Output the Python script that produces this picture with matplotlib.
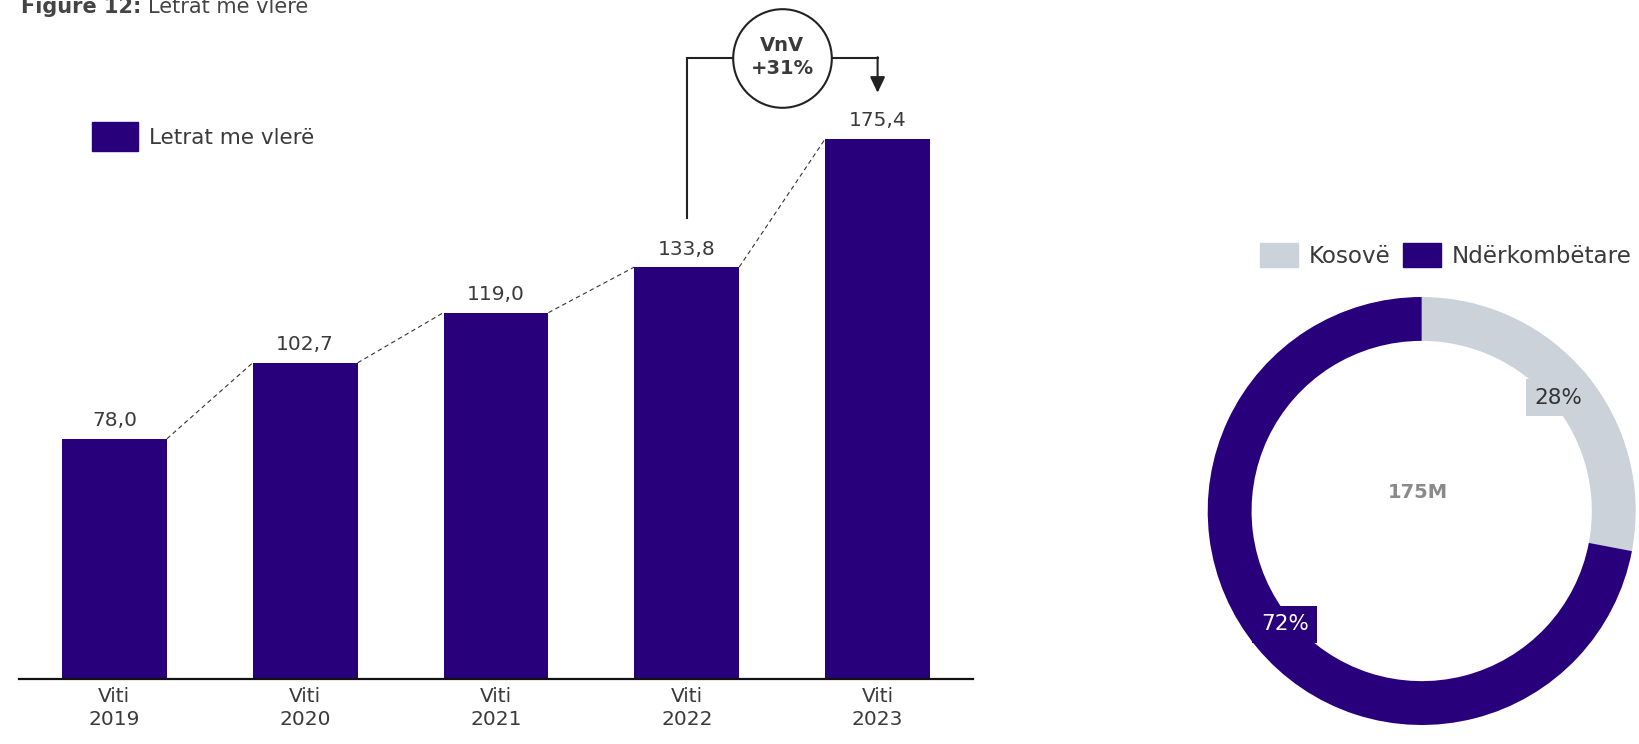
import math
import matplotlib
matplotlib.use("Agg")
import matplotlib.pyplot as plt
from matplotlib.patches import Patch

plt.rcParams['font.family'] = ['DejaVu Sans']

# --- data ---
years = ["2019", "2020", "2021", "2022", "2023"]
values = [78.0, 102.7, 119.0, 133.8, 175.4]
series_name = "Letrat me vlerë"
share_labels = ["Kosovë", "Ndërkombëtare"]
share_values = [28, 72]

PURPLE = "#29007B"
LIGHT = "#CBD2D9"
TEXT = "#3A3A3A"

W, H = 1640, 744
fig = plt.figure(figsize=(W / 100, H / 100), dpi=100)

# --- bar chart ---
px_per_unit = 3.079
ax = fig.add_axes([19 / W, 65 / H, 954 / W, 679 / H])
x = list(range(len(years)))
bw = 0.55
ax.bar(x, values, width=bw, color=PURPLE, zorder=2)
ax.set_xlim(-0.5, 4.5)
ax.set_ylim(0, 679 / px_per_unit)
for s in ("top", "right", "left"):
    ax.spines[s].set_visible(False)
ax.spines["bottom"].set_linewidth(1.6)
ax.spines["bottom"].set_color("#111111")
ax.set_yticks([])
ax.set_xticks(x)
ax.set_xticklabels([f"Viti\n{y}" for y in years], fontsize=14.5, color=TEXT,
                   linespacing=1.25)
ax.tick_params(axis="x", length=0, pad=6)

for xi, v in zip(x, values):
    ax.annotate(f"{v:.1f}".replace(".", ","), xy=(xi, v), xytext=(0, 18),
                textcoords="offset pixels", ha="center", va="center",
                fontsize=14.5, color=TEXT)

# dashed connectors between neighbouring bar tops
for i in range(len(values) - 1):
    ax.plot([x[i] + bw / 2, x[i + 1] - bw / 2], [values[i], values[i + 1]],
            ls=(0, (4, 3)), lw=0.8, color="#333333", zorder=1)

# year-over-year growth callout
growth = round((values[-1] / values[-2] - 1) * 100)
y_top = 201.7
gap = 16
ax.plot([x[-2], x[-2], x[-1]], [values[-2] + gap, y_top, y_top],
        color="#222222", lw=1.5, zorder=3, solid_joinstyle="miter")
ax.annotate("", xy=(x[-1], values[-1] + gap - 1), xytext=(x[-1], y_top + 0.25),
            arrowprops=dict(arrowstyle="-|>,head_length=0.95,head_width=0.45",
                            color="#222222", lw=1.5, shrinkA=0, shrinkB=0),
            zorder=3)
cx = (x[-2] + x[-1]) / 2
ax.plot([cx], [y_top], marker="o", markersize=71, mfc="white",
        mec="#222222", mew=1.5, zorder=4, clip_on=False)
ax.text(cx, y_top + 0.3, f"VnV\n+{growth}%", ha="center", va="center",
        fontsize=14, fontweight="bold", color=TEXT, linespacing=1.3,
        zorder=5)

ax.legend(handles=[Patch(color=PURPLE, label=series_name)],
          loc="upper left", bbox_to_anchor=(92 / W, 1 - 122 / H),
          bbox_transform=fig.transFigure, frameon=False, fontsize=15.5,
          handlelength=2.15, handleheight=1.7, handletextpad=0.5,
          borderpad=0, borderaxespad=0, labelcolor=TEXT)

# --- title ---
t1 = fig.text(21 / W, 1 - 13 / H, "Figure 12:", fontsize=15, fontweight="bold",
              color="#444444", va="baseline", ha="left")
fig.canvas.draw()
bb = t1.get_window_extent(fig.canvas.get_renderer())
fig.text((bb.x1 + 7) / W, 1 - 13 / H, "Letrat me vlerë", fontsize=15,
         color="#444444", va="baseline", ha="left")

# --- donut ---
R = 214
cxp, cyp = 1421.7, 744 - 511
ax2 = fig.add_axes([(cxp - R) / W, (cyp - R) / H, 2 * R / W, 2 * R / H])
ax2.pie(share_values, colors=[LIGHT, PURPLE], startangle=90, counterclock=False,
        radius=1, wedgeprops=dict(width=0.205, linewidth=0))
ax2.set_xlim(-1, 1)
ax2.set_ylim(-1, 1)
ax2.set_aspect("equal")
ax2.axis("off")

start = 90.0
for val, fc, tc in zip(share_values, [LIGHT, PURPLE], ["#333333", "white"]):
    span = 360 * val / sum(share_values)
    mid = math.radians(start - span / 2)
    r = 0.83
    ax2.text(r * math.cos(mid), r * math.sin(mid), f"{val}%", ha="center",
             va="center", fontsize=15.5, color=tc,
             bbox=dict(boxstyle="square,pad=0.4", fc=fc, ec="none"))
    start -= span

total = round(values[-1])
ax2.text(-0.02, 0.085, f"{total}M", ha="center", va="center", fontsize=14,
         fontweight="bold", color="#8A8A8A")

fig.legend(handles=[Patch(color=c, label=l) for c, l in
                    zip([LIGHT, PURPLE], share_labels)],
           loc="upper left", bbox_to_anchor=(1260 / W, 1 - 243 / H),
           ncol=2, frameon=False, fontsize=16.6, handlelength=1.65,
           handleheight=1.2, handletextpad=0.45, columnspacing=0.55,
           borderpad=0, borderaxespad=0, labelcolor=TEXT)

fig.savefig("out.png", dpi=100)
